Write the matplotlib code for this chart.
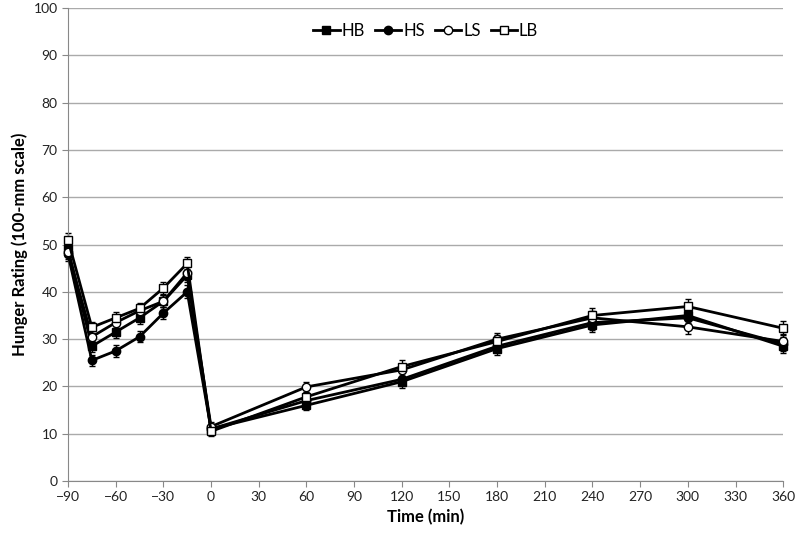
import numpy as np
import matplotlib
matplotlib.use('Agg')
import matplotlib.pyplot as plt

plt.rcParams['font.family'] = ['Lato', 'DejaVu Sans']

time_min = [-90, -75, -60, -45, -30, -15, 0, 60, 120, 180, 240, 300, 360]
hb = [49, 28.5, 31.5, 34.5, 38, 43.5, 11, 16, 21, 28, 33, 35, 28.5]
hs = [48, 25.5, 27.5, 30.5, 35.5, 40, 11, 17, 21.5, 28.5, 33.5, 34.5, 29]
ls = [48.5, 30.5, 33.5, 36, 38, 44, 11.5, 19.9, 23.5, 30, 34.5, 32.6, 29.5]
lb = [51, 32.5, 34.5, 36.5, 40.8, 46, 10.5, 17.8, 24.2, 29.5, 35, 36.9, 32.3]
err = [1.5, 1.2, 1.2, 1.2, 1.3, 1.4, 1.0, 1.0, 1.3, 1.3, 1.5, 1.5, 1.5]

fig = plt.figure(figsize=(8, 5.39), dpi=100)
ax = fig.add_axes([0.085, 0.1076, 0.894, 0.8774])

series = [('HB', hb, 's', 'black'), ('HS', hs, 'o', 'black'),
          ('LS', ls, 'o', 'white'), ('LB', lb, 's', 'white')]
for name, vals, mk, fc in series:
    ax.errorbar(time_min, vals, yerr=err, fmt='none', ecolor='black',
                elinewidth=1, capsize=2.5, clip_on=False)
    ax.plot(time_min, vals, color='black', lw=2, marker=mk, markersize=6,
            markerfacecolor=fc, markeredgecolor='black', markeredgewidth=1,
            label=name, clip_on=False, zorder=3)

ax.set_xlim(-90, 360)
ax.set_ylim(0, 100)
ax.set_xticks(np.arange(-90, 361, 30))
ax.set_yticks(np.arange(0, 101, 10))
ax.grid(axis='y', color='#aaaaaa', lw=1)
ax.set_axisbelow(True)
for s in ['top', 'right']:
    ax.spines[s].set_visible(False)
ax.spines['left'].set_color('#888888')
ax.spines['bottom'].set_color('#888888')
ax.tick_params(length=4, color='#888888', labelsize=10, labelcolor='#222222')
ax.set_xlabel('Time (min)', fontsize=12, fontweight='bold')
ax.set_ylabel('Hunger Rating (100-mm scale)', fontsize=12, fontweight='bold')

ax.legend(loc='upper center', bbox_to_anchor=(0.5, 1.0), ncol=4, frameon=False,
          handlelength=1.6, handletextpad=0.1, columnspacing=0.6, fontsize=12)

fig.savefig('out.png', dpi=100)
